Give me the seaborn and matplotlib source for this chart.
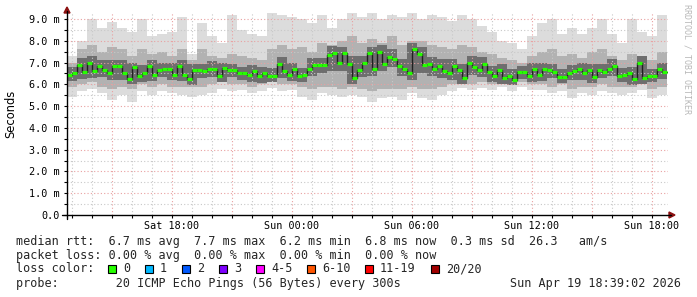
import matplotlib
matplotlib.use("Agg")
import numpy as np
import pandas as pd
import matplotlib.pyplot as plt
import seaborn as sns
from matplotlib.patches import Rectangle, Polygon
from matplotlib.lines import Line2D

# ---------------- data (hours since Sat 00:00, values in ms) ----------------
START_H = 12.75          # left edge of the graph (Sat 12:45)
END_H = 42.8             # right edge (Sun ~18:48)
MEDIAN_STEP_H = 0.25
SMOKE_STEP_H = 0.5

median_ms = [6.45, 6.5, 6.9, 6.56, 7.0, 6.6, 6.84, 6.66, 6.5, 6.84,
             6.84, 6.5, 6.24, 6.8, 6.38, 6.5, 6.84, 6.45, 6.66, 6.7,
             6.7, 6.45, 6.84, 6.41, 6.24, 6.66, 6.66, 6.6, 6.7, 6.7,
             6.4, 6.75, 6.66, 6.66, 6.5, 6.5, 6.41, 6.6, 6.38, 6.5,
             6.4, 6.4, 6.95, 6.6, 6.45, 6.7, 6.4, 6.41, 6.7, 6.87,
             6.87, 6.87, 7.33, 7.42, 7.0, 7.42, 6.95, 6.3, 6.66, 7.0,
             7.42, 6.7, 7.5, 6.95, 7.26, 7.18, 6.84, 6.7, 6.5, 7.6,
             7.37, 6.87, 6.95, 6.7, 6.84, 6.6, 6.5, 6.84, 6.66, 6.3,
             7.0, 6.8, 6.66, 6.95, 6.56, 6.4, 6.66, 6.3, 6.4, 6.2,
             6.56, 6.56, 6.4, 6.7, 6.45, 6.7, 6.66, 6.56, 6.35, 6.35,
             6.5, 6.6, 6.7, 6.5, 6.66, 6.35, 6.66, 6.56, 6.7, 6.85,
             6.4, 6.45, 6.5, 6.25, 7.0, 6.3, 6.4, 6.4, 6.7, 6.56]

smoke_max = [7.3, 8.0, 9.0, 8.6, 8.85, 8.6, 8.4, 9.0, 8.2, 8.3,
             8.4, 9.1, 7.4, 8.8, 8.2, 7.9, 9.2, 8.5, 8.3, 8.2,
             9.3, 9.2, 9.1, 9.0, 8.8, 9.2, 8.6, 9.0, 9.3, 9.1,
             9.3, 9.0, 9.2, 9.1, 9.3, 9.0, 9.2, 9.1, 8.9, 9.2,
             9.0, 8.7, 8.4, 8.0, 7.9, 7.6, 8.2, 8.8, 9.0, 8.3,
             8.6, 8.3, 8.6, 9.0, 8.3, 7.9, 9.0, 8.4, 8.2, 9.2]
smoke_min = [5.4, 5.7, 5.8, 5.6, 5.3, 5.5, 5.2, 5.7, 5.5, 5.7,
             5.6, 5.5, 5.4, 5.5, 5.6, 5.8, 5.7, 5.74, 5.6, 5.7,
             5.85, 5.7, 5.75, 5.4, 5.3, 5.6, 5.5, 5.4, 5.5, 5.4,
             5.2, 5.35, 5.4, 5.3, 5.6, 5.35, 5.3, 5.5, 5.7, 5.85,
             5.75, 5.85, 5.75, 5.9, 5.7, 5.9, 5.75, 5.75, 5.6, 5.7,
             5.35, 5.6, 5.5, 5.7, 5.6, 5.5, 5.6, 5.75, 5.35, 5.5]
smoke_hi_mid = [7.0, 7.6, 7.8, 7.5, 7.7, 7.6, 7.3, 7.6, 7.4, 7.5,
                7.3, 7.6, 7.1, 7.6, 7.3, 7.2, 7.4, 7.3, 7.2, 7.1,
                7.6, 7.8, 7.6, 7.7, 7.5, 7.9, 7.8, 8.0, 8.2, 7.9,
                8.1, 7.9, 8.2, 7.8, 8.0, 8.0, 7.8, 7.7, 7.6, 7.8,
                7.7, 7.5, 7.4, 7.2, 7.1, 7.0, 7.3, 7.5, 7.6, 7.3,
                7.4, 7.2, 7.5, 7.6, 7.3, 7.1, 7.4, 7.2, 7.1, 7.5]
smoke_lo_mid = [5.9, 6.0, 6.1, 5.9, 5.8, 5.9, 5.8, 6.0, 5.9, 6.0,
                5.9, 5.9, 5.9, 5.9, 6.0, 6.1, 6.0, 6.0, 5.9, 6.0,
                6.1, 6.0, 6.0, 5.9, 5.8, 5.9, 5.9, 5.8, 5.9, 5.8,
                5.7, 5.8, 5.8, 5.8, 5.9, 5.8, 5.8, 5.9, 6.0, 6.0,
                6.0, 6.1, 6.0, 6.1, 6.0, 6.1, 6.0, 6.0, 5.9, 6.0,
                5.8, 5.9, 5.9, 6.0, 5.9, 5.9, 5.9, 6.0, 5.8, 5.9]
smoke_hi_core = [6.8, 7.2, 7.3, 7.1, 7.1, 7.1, 7.0, 6.9, 7.1, 7.0,
                 7.0, 7.1, 6.95, 6.95, 7.05, 7.0, 6.95, 6.8, 6.9, 6.8,
                 6.75, 7.25, 7.0, 6.75, 7.2, 7.2, 7.75, 7.7, 7.3, 7.3,
                 7.7, 7.8, 7.6, 7.15, 7.9, 7.7, 7.25, 7.15, 7.15, 6.95,
                 7.3, 7.25, 6.85, 6.95, 6.7, 6.85, 7.0, 7.0, 6.95, 6.7,
                 6.9, 7.0, 6.95, 6.95, 7.15, 6.75, 6.8, 7.3, 6.7, 7.0]
smoke_lo_core = [6.15, 6.25, 6.3, 6.35, 6.2, 6.2, 6.0, 6.1, 6.15, 6.35,
                 6.2, 6.15, 5.95, 6.3, 6.35, 6.1, 6.35, 6.2, 6.1, 6.05,
                 6.1, 6.3, 6.15, 6.1, 6.4, 6.5, 6.6, 6.6, 6.0, 6.35,
                 6.4, 6.6, 6.8, 6.4, 6.2, 6.5, 6.4, 6.3, 6.2, 6.0,
                 6.45, 6.35, 6.1, 6.0, 5.95, 6.25, 6.1, 6.15, 6.3, 6.05,
                 6.2, 6.2, 6.05, 6.3, 6.4, 6.1, 5.95, 6.0, 6.1, 6.25]

tick_hours = [18, 24, 30, 36, 42]
tick_labels = ["Sat 18:00", "Sun 00:00", "Sun 06:00", "Sun 12:00", "Sun 18:00"]
ytick_vals = [0, 1, 2, 3, 4, 5, 6, 7, 8, 9]
ytick_labels = ["0.0", "1.0 m", "2.0 m", "3.0 m", "4.0 m", "5.0 m",
                "6.0 m", "7.0 m", "8.0 m", "9.0 m"]
loss_labels = ["0", "1", "2", "3", "4-5", "6-10", "11-19", "20/20"]
loss_colors = ["#26ff00", "#00b8ff", "#0059ff", "#7e00ff", "#ff00ff",
               "#ff5500", "#ff0000", "#a10000"]

stats_line1 = "median rtt:  6.7 ms avg  7.7 ms max  6.2 ms min  6.8 ms now  0.3 ms sd  26.3   am/s"
stats_line2 = "packet loss: 0.00 % avg  0.00 % max  0.00 % min  0.00 % now"
probe_line = "probe:        20 ICMP Echo Pings (56 Bytes) every 300s"
date_text = "Sun Apr 19 18:39:02 2026"

# ---------------- figure ----------------
W, H = 697, 297
sns.set_theme(style="white")
plt.rcParams["font.family"] = ["DejaVu Sans Mono"]
fig = plt.figure(figsize=(W / 100, H / 100), dpi=100)
fig.patch.set_facecolor("white")

AX_L, AX_R, AX_T, AX_B = 67, 668, 13, 215
ax = fig.add_axes([AX_L / W, 1 - AX_B / H, (AX_R - AX_L) / W, (AX_B - AX_T) / H])
ax.set_facecolor("white")
PX_PER_MS = 196 / 9.0
ax.set_xlim(START_H, END_H)
ax.set_ylim(0, (AX_B - AX_T) / PX_PER_MS)

def fx(x):
    return x / W

def fy(y):
    return 1 - y / H

# smoke bands
n_s = len(smoke_max)
s_edges = START_H + SMOKE_STEP_H * np.arange(n_s + 1)
def band(lo, hi, color, z):
    lo2 = list(lo) + [lo[-1]]
    hi2 = list(hi) + [hi[-1]]
    ax.fill_between(s_edges, lo2, hi2, step="post", color=color, lw=0, zorder=z)

band(smoke_min, smoke_max, "#dcdcdc", 1)
band(smoke_lo_mid, smoke_hi_mid, "#b2b2b2", 2)
band(smoke_lo_core, smoke_hi_core, "#6e6e6e", 3)

# grid (drawn over smoke, like rrdtool)
for h in np.arange(13, 43, 1):
    major = (h % 3 == 0)
    ax.axvline(h, color="#e9a0a0" if major else "#c8c8c8", lw=0.8,
               ls=(0, (1, 2)), zorder=4)
for v in np.arange(0.5, 9.3, 0.5):
    major = abs(v - round(v)) < 1e-6
    ax.axhline(v, color="#e9a0a0" if major else "#c8c8c8", lw=0.8,
               ls=(0, (1, 2)), zorder=4)

# median: dark step line + green loss-coloured segments
n_m = len(median_ms)
t_m = START_H + MEDIAN_STEP_H * np.arange(n_m)
df = pd.DataFrame({"t": list(t_m) + [t_m[-1] + MEDIAN_STEP_H],
                   "median": list(median_ms) + [median_ms[-1]]})
sns.lineplot(data=df, x="t", y="median", drawstyle="steps-post",
             color="#202020", lw=1.0, ax=ax, zorder=5)
ax.hlines(median_ms, t_m, t_m + MEDIAN_STEP_H, colors=loss_colors[0],
          lw=2.3, zorder=6)

# axes styling
for s in ["top", "right", "left", "bottom"]:
    ax.spines[s].set_visible(False)
ax.set_xlabel("")
ax.set_ylabel("")
ax.set_yticks(ytick_vals)
ax.set_yticklabels(ytick_labels)
ax.set_yticks(np.arange(0.5, 9.3, 1.0), minor=True)
ax.set_xticks(tick_hours)
ax.set_xticklabels(tick_labels)
ax.set_xticks(np.arange(13, 43, 1), minor=True)
ax.tick_params(axis="y", which="both", left=True, length=2.5, width=0.8,
               color="#000000", pad=2.5, labelsize=7.3)
ax.tick_params(axis="x", which="both", bottom=True, length=2.0, width=0.8,
               color="#000000", pad=2.5, labelsize=7.3)
for lab in ax.get_xticklabels() + ax.get_yticklabels():
    lab.set_fontfamily("DejaVu Sans Mono")
    lab.set_color("#000000")

# axis lines with arrows
fig.add_artist(Line2D([fx(62), fx(671)], [fy(215), fy(215)], color="black", lw=1.0))
fig.add_artist(Line2D([fx(67), fx(67)], [fy(219), fy(11)], color="black", lw=1.0))
fig.add_artist(Polygon([[fx(669), fy(212)], [fx(675), fy(215)], [fx(669), fy(218)]],
                       closed=True, color="#8b1010", transform=fig.transFigure))
fig.add_artist(Polygon([[fx(64), fy(13)], [fx(67), fy(7)], [fx(70), fy(13)]],
                       closed=True, color="#8b1010", transform=fig.transFigure))

# y label and side text
fig.text(fx(11), fy(114), "Seconds", rotation=90, ha="center", va="center",
         fontsize=8.3, family="DejaVu Sans", color="black")
fig.text(fx(687), fy(4), "RRDTOOL / TOBI OETIKER", rotation=270, ha="center",
         va="top", fontsize=6.0, family="DejaVu Sans Mono", color="#b8b8b8")

# legend / stats block
FS = 8.5
fig.text(fx(16), fy(241.5), stats_line1, ha="left", va="center", fontsize=FS,
         family="DejaVu Sans Mono")
fig.text(fx(16), fy(255.5), stats_line2, ha="left", va="center", fontsize=FS,
         family="DejaVu Sans Mono")
fig.text(fx(16), fy(269), "loss color:", ha="left", va="center", fontsize=FS,
         family="DejaVu Sans Mono")
sq_x = [108, 145, 182, 219, 256, 307, 365, 431]
for x0, lab, col in zip(sq_x, loss_labels, loss_colors):
    fig.add_artist(Rectangle((fx(x0), fy(273)), 8 / W, 8 / H, facecolor=col,
                             edgecolor="black", lw=0.8, transform=fig.transFigure))
    fig.text(fx(x0 + 15), fy(269), lab, ha="left", va="center", fontsize=FS,
             family="DejaVu Sans Mono")
fig.text(fx(16), fy(283), probe_line, ha="left", va="center", fontsize=FS,
         family="DejaVu Sans Mono")
fig.text(fx(681), fy(283), date_text, ha="right", va="center", fontsize=FS,
         family="DejaVu Sans Mono")

fig.savefig("out.png", dpi=100, facecolor="white")
